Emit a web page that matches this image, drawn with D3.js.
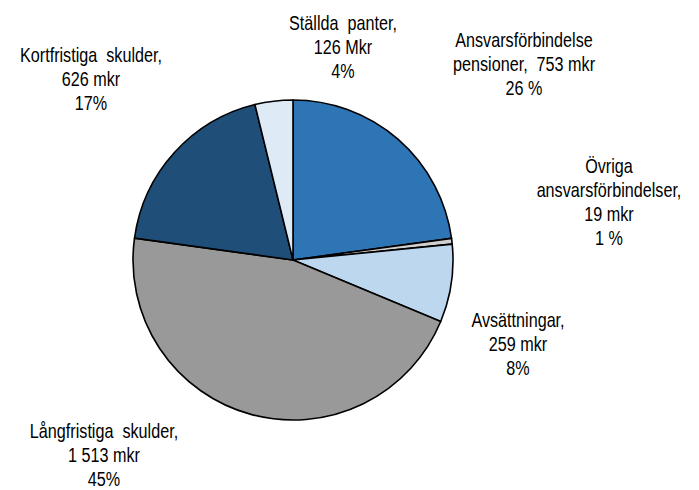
<!DOCTYPE html>
<html>
<head>
<meta charset="utf-8">
<script src="https://cdn.jsdelivr.net/npm/d3@7"></script>
<style>
    body { margin: 0; background: #fff; }
    .label { font-family: "Liberation Sans", Arial, sans-serif; font-size: 19.5px; fill: #000; }
</style>
</head>
<body>
<div id="chart"></div>
<script>
// data, clockwise from 12 o'clock
var categories = ["Ansvarsförbindelse pensioner", "Övriga ansvarsförbindelser", "Avsättningar", "Långfristiga skulder", "Kortfristiga skulder", "Ställda panter"];
var values = [753, 19, 259, 1513, 626, 126];
var labelLines = [
    ["Ansvarsförbindelse", "pensioner,  753 mkr", "26 %"],
    ["Övriga", "ansvarsförbindelser,", "19 mkr", "1 %"],
    ["Avsättningar,", "259 mkr", "8%"],
    ["Långfristiga  skulder,", "1 513 mkr", "45%"],
    ["Kortfristiga  skulder,", "626 mkr", "17%"],
    ["Ställda  panter,", "126 Mkr", "4%"]
];

// styling / placement
var colors = ["#2E75B6", "#D0D0D0", "#BDD7EE", "#999999", "#1F4E79", "#DEEBF7"];
var labelPos = [[524, 47], [609, 173], [518, 327], [104, 438], [91, 62], [343, 30]];

(function() {
    var width = 699, height = 490;
    var cx = 293, cy = 260, radius = 160;
    var lineHeight = 24;
    var narrow = 0.83; // no Arial Narrow installed, squeeze horizontally

    var svg = d3.select("#chart").append("svg")
        .attr("width", width)
        .attr("height", height);

    var pie = d3.pie().sort(null).value(function(d) { return d; });
    var arc = d3.arc().innerRadius(0).outerRadius(radius);

    var g = svg.append("g")
        .attr("transform", "translate(" + cx + "," + cy + ")");

    g.selectAll("path")
        .data(pie(values))
        .enter().append("path")
        .attr("d", arc)
        .attr("fill", function(d, i) { return colors[i]; })
        .attr("stroke", "#000")
        .attr("stroke-width", 1.6)
        .attr("stroke-linejoin", "round");

    var labels = svg.selectAll("g.label")
        .data(categories)
        .enter().append("g")
        .attr("class", "label")
        .attr("transform", function(d, i) {
            return "translate(" + labelPos[i][0] + "," + labelPos[i][1] + ") scale(" + narrow + ",1)";
        });

    labels.each(function(d, i) {
        var t = d3.select(this).append("text")
            .attr("text-anchor", "middle")
            .attr("xml:space", "preserve");
        labelLines[i].forEach(function(line, j) {
            t.append("tspan")
                .attr("x", 0)
                .attr("y", j * lineHeight)
                .text(line);
        });
    });
})();
</script>
</body>
</html>
